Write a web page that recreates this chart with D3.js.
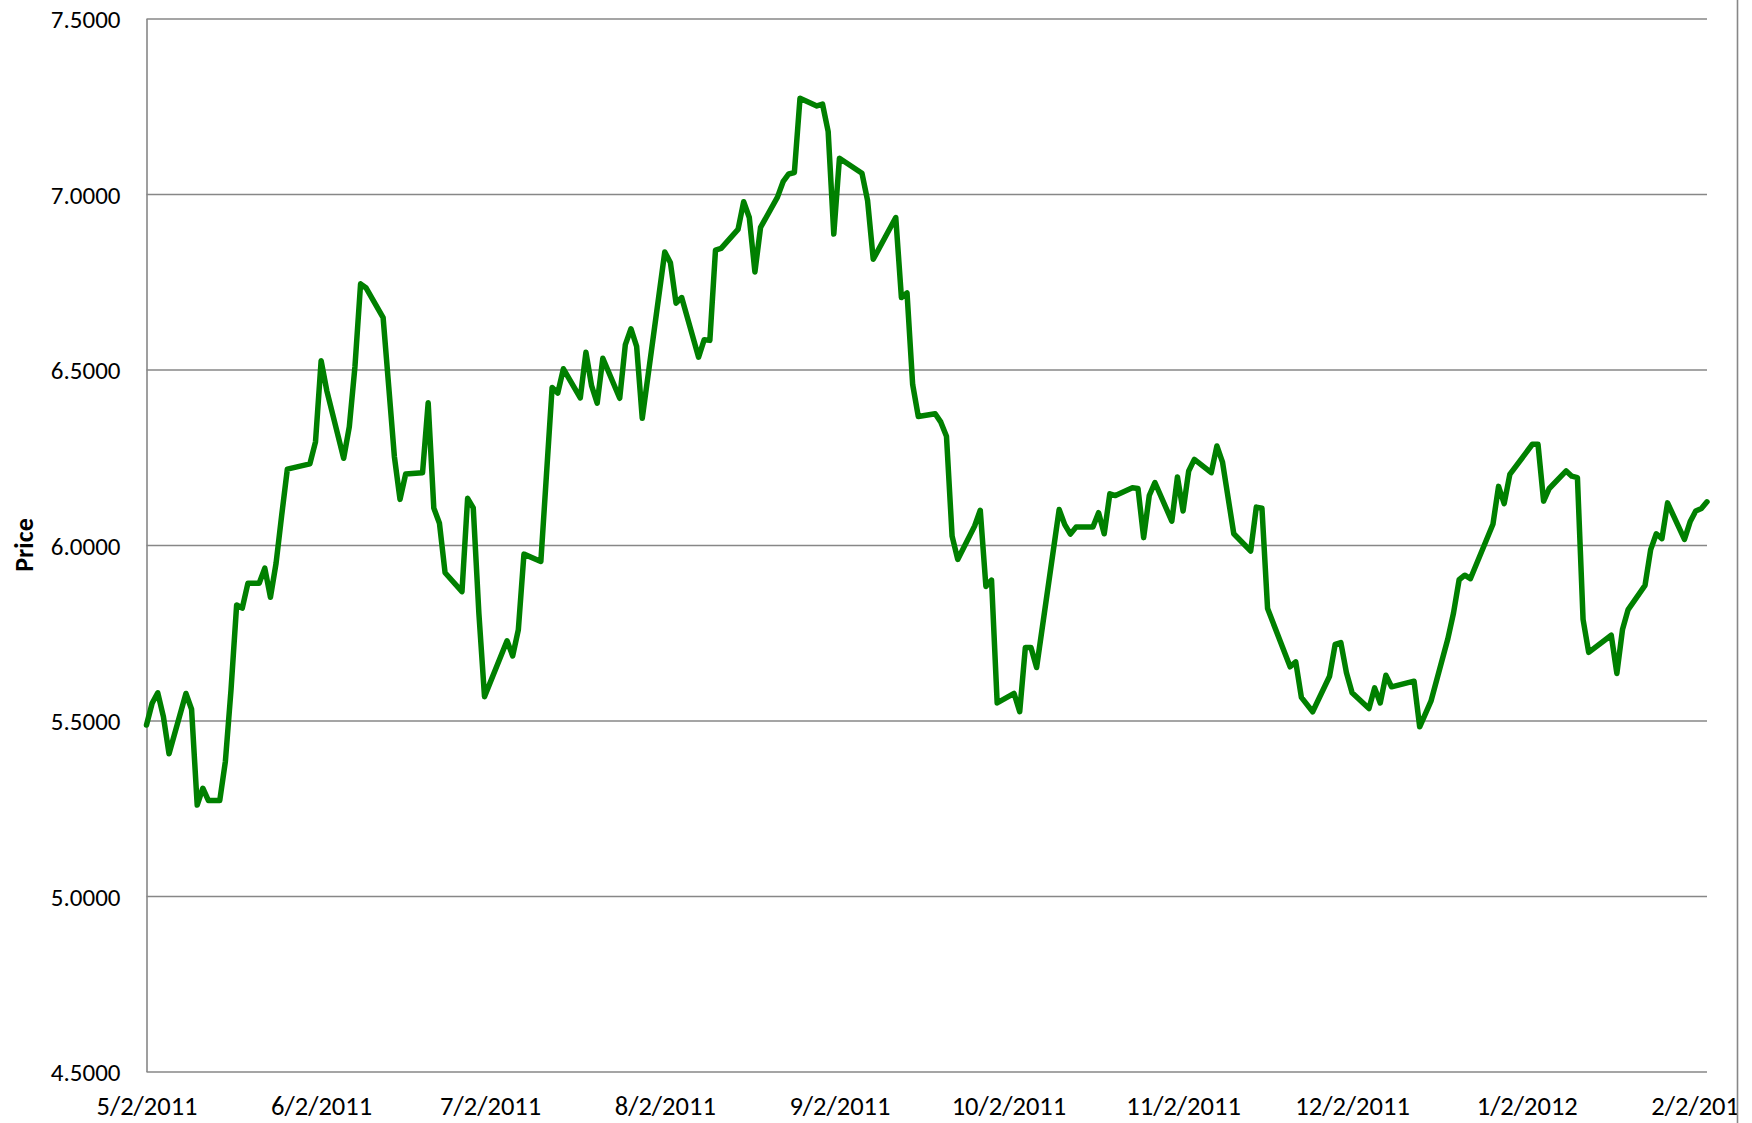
<!DOCTYPE html>
<html>
<head>
<meta charset="utf-8">
<script src="https://cdn.jsdelivr.net/npm/d3@7"></script>
<style>
	body { margin: 0; background: #fff; }
	text { font-family: Carlito, Calibri, Lato, sans-serif; fill: #000; }
</style>
</head>
<body>
<div id="price_graph"></div>
<script>
// dates and prices
var dates = [
	"2011-05-02", "2011-05-03", "2011-05-04", "2011-05-05", "2011-05-06", "2011-05-09", "2011-05-10", "2011-05-11",
	"2011-05-12", "2011-05-13", "2011-05-15", "2011-05-16", "2011-05-17", "2011-05-18", "2011-05-19", "2011-05-20",
	"2011-05-22", "2011-05-23", "2011-05-24", "2011-05-25", "2011-05-26", "2011-05-27", "2011-05-31", "2011-06-01",
	"2011-06-02", "2011-06-03", "2011-06-06", "2011-06-07", "2011-06-08", "2011-06-09", "2011-06-10", "2011-06-13",
	"2011-06-14", "2011-06-15", "2011-06-16", "2011-06-17", "2011-06-20", "2011-06-21", "2011-06-22", "2011-06-23",
	"2011-06-24", "2011-06-27", "2011-06-28", "2011-06-29", "2011-06-30", "2011-07-01", "2011-07-05", "2011-07-06",
	"2011-07-07", "2011-07-08", "2011-07-11", "2011-07-13", "2011-07-14", "2011-07-15", "2011-07-18", "2011-07-19",
	"2011-07-20", "2011-07-21", "2011-07-22", "2011-07-25", "2011-07-26", "2011-07-27", "2011-07-28", "2011-07-29",
	"2011-08-02", "2011-08-03", "2011-08-04", "2011-08-05", "2011-08-08", "2011-08-09", "2011-08-10", "2011-08-11",
	"2011-08-12", "2011-08-15", "2011-08-16", "2011-08-17", "2011-08-18", "2011-08-19", "2011-08-22", "2011-08-23",
	"2011-08-24", "2011-08-25", "2011-08-26", "2011-08-29", "2011-08-30", "2011-08-31", "2011-09-01", "2011-09-02",
	"2011-09-06", "2011-09-07", "2011-09-08", "2011-09-12", "2011-09-13", "2011-09-14", "2011-09-15", "2011-09-16",
	"2011-09-19", "2011-09-20", "2011-09-21", "2011-09-22", "2011-09-23", "2011-09-26", "2011-09-27", "2011-09-28",
	"2011-09-29", "2011-09-30", "2011-10-03", "2011-10-04", "2011-10-05", "2011-10-06", "2011-10-07", "2011-10-11",
	"2011-10-12", "2011-10-13", "2011-10-14", "2011-10-17", "2011-10-18", "2011-10-19", "2011-10-20", "2011-10-21",
	"2011-10-24", "2011-10-25", "2011-10-26", "2011-10-27", "2011-10-28", "2011-10-31", "2011-11-01", "2011-11-02",
	"2011-11-03", "2011-11-04", "2011-11-07", "2011-11-08", "2011-11-09", "2011-11-11", "2011-11-14", "2011-11-15",
	"2011-11-16", "2011-11-17", "2011-11-21", "2011-11-22", "2011-11-23", "2011-11-25", "2011-11-28", "2011-11-29",
	"2011-11-30", "2011-12-01", "2011-12-02", "2011-12-05", "2011-12-06", "2011-12-07", "2011-12-08", "2011-12-09",
	"2011-12-13", "2011-12-14", "2011-12-16", "2011-12-19", "2011-12-20", "2011-12-21", "2011-12-22", "2011-12-23",
	"2011-12-27", "2011-12-28", "2011-12-29", "2011-12-30", "2012-01-03", "2012-01-04", "2012-01-05", "2012-01-06",
	"2012-01-09", "2012-01-10", "2012-01-11", "2012-01-12", "2012-01-13", "2012-01-17", "2012-01-18", "2012-01-19",
	"2012-01-20", "2012-01-23", "2012-01-24", "2012-01-25", "2012-01-26", "2012-01-27", "2012-01-30", "2012-01-31",
	"2012-02-01", "2012-02-02", "2012-02-03"
];

var prices = [
	5.487, 5.549, 5.579, 5.511, 5.405, 5.577, 5.532, 5.259,
	5.307, 5.272, 5.272, 5.383, 5.587, 5.829, 5.820, 5.891,
	5.891, 5.934, 5.851, 5.948, 6.085, 6.216, 6.231, 6.294,
	6.525, 6.440, 6.247, 6.337, 6.508, 6.744, 6.732, 6.648,
	6.451, 6.252, 6.130, 6.202, 6.206, 6.405, 6.105, 6.062,
	5.921, 5.867, 6.133, 6.106, 5.805, 5.568, 5.727, 5.684,
	5.758, 5.974, 5.953, 6.449, 6.433, 6.502, 6.419, 6.549,
	6.454, 6.404, 6.532, 6.418, 6.571, 6.616, 6.566, 6.361,
	6.835, 6.804, 6.689, 6.705, 6.535, 6.585, 6.583, 6.840,
	6.845, 6.899, 6.978, 6.933, 6.778, 6.905, 6.991, 7.035,
	7.057, 7.061, 7.273, 7.251, 7.256, 7.178, 6.886, 7.102,
	7.059, 6.981, 6.814, 6.933, 6.705, 6.718, 6.457, 6.366,
	6.374, 6.350, 6.310, 6.025, 5.959, 6.054, 6.099, 5.882,
	5.900, 5.550, 5.577, 5.525, 5.708, 5.708, 5.651, 6.101,
	6.058, 6.031, 6.051, 6.051, 6.092, 6.032, 6.146, 6.141,
	6.163, 6.161, 6.021, 6.141, 6.178, 6.068, 6.194, 6.097,
	6.211, 6.244, 6.206, 6.282, 6.236, 6.032, 5.983, 6.108,
	6.105, 5.819, 5.653, 5.667, 5.566, 5.525, 5.626, 5.717,
	5.722, 5.636, 5.579, 5.534, 5.593, 5.550, 5.629, 5.596,
	5.612, 5.482, 5.555, 5.733, 5.806, 5.901, 5.914, 5.904,
	6.059, 6.167, 6.118, 6.201, 6.287, 6.287, 6.125, 6.161,
	6.211, 6.196, 6.192, 5.788, 5.694, 5.743, 5.634, 5.759,
	5.816, 5.885, 5.987, 6.032, 6.018, 6.120, 6.016, 6.066,
	6.097, 6.104, 6.123
];

// axis ticks
var xTicks = [ "2011-05-02", "2011-06-02", "2011-07-02", "2011-08-02", "2011-09-02",
	"2011-10-02", "2011-11-02", "2011-12-02", "2012-01-02", "2012-02-02" ];
var yTicks = [ 4.5, 5.0, 5.5, 6.0, 6.5, 7.0, 7.5 ];
var xDomain = [ "2011-05-02", "2012-02-03" ];
var yTitle = "Price";

// set the dimensions and margins of the graph
var margin = {
		top: 18.5,
		right: 45,
		bottom: 51.5,
		left: 146.5
	},
	totalWidth = 1752,
	totalHeight = 1123,
	width = totalWidth - margin.left - margin.right,
	height = totalHeight - margin.top - margin.bottom;

var parseDate = d3.timeParse( "%Y-%m-%d" );
var labelFormat = d3.timeFormat( "%-m/%-d/%Y" );

var data = dates.map( function( d, i ) {
	return { date: parseDate( d ), price: prices[ i ] };
} );

// scales
var x = d3.scaleTime()
	.domain( xDomain.map( parseDate ) )
	.range( [ 0, width ] );

var y = d3.scaleLinear()
	.domain( [ 4.5, 7.5 ] )
	.range( [ height, 0 ] );

var svg = d3.select( "#price_graph" )
	.append( "svg" )
	.attr( "width", totalWidth )
	.attr( "height", totalHeight )
	.style( "display", "block" );

svg.append( "rect" )
	.attr( "width", totalWidth )
	.attr( "height", totalHeight )
	.attr( "fill", "#fff" );

// labels running past the chart border get cut off
svg.append( "clipPath" )
	.attr( "id", "chartClip" )
	.append( "rect" )
	.attr( "x", 0 )
	.attr( "y", 0 )
	.attr( "width", 1737 )
	.attr( "height", totalHeight );

var g = svg.append( "g" )
	.attr( "transform", "translate(" + margin.left + "," + margin.top + ")" );

// y axis with gridlines
var yAxis = d3.axisLeft( y )
	.tickValues( yTicks )
	.tickSize( -width )
	.tickSizeOuter( 0 )
	.tickPadding( 26 )
	.tickFormat( d3.format( ".4f" ) );

var yG = g.append( "g" )
	.attr( "class", "y axis" )
	.call( yAxis );

yG.selectAll( ".tick line" )
	.attr( "stroke", "#878787" )
	.attr( "stroke-width", 1.6 );
yG.select( ".domain" )
	.attr( "stroke", "#878787" )
	.attr( "stroke-width", 1.6 );
yG.selectAll( "text" )
	.style( "font-size", "25px" )
	.attr( "dy", "0.36em" );

// x axis, labels only
var xAxis = d3.axisBottom( x )
	.tickValues( xTicks.map( parseDate ) )
	.tickSize( 0 )
	.tickFormat( labelFormat );

var xG = svg.append( "g" )
	.attr( "class", "x axis" )
	.attr( "clip-path", "url(#chartClip)" )
	.append( "g" )
	.attr( "transform", "translate(" + margin.left + "," + ( margin.top + height ) + ")" )
	.call( xAxis );

xG.select( ".domain" ).remove();
xG.selectAll( "text" )
	.style( "font-size", "26.5px" )
	.attr( "y", 43 )
	.attr( "dy", 0 );

// right border of the chart area
svg.append( "line" )
	.attr( "x1", 1737.5 )
	.attr( "x2", 1737.5 )
	.attr( "y1", 0 )
	.attr( "y2", totalHeight )
	.attr( "stroke", "#878787" )
	.attr( "stroke-width", 1.6 );

// y title
svg.append( "text" )
	.attr( "transform", "translate(33," + ( margin.top + height / 2 ) + ") rotate(-90)" )
	.attr( "text-anchor", "middle" )
	.style( "font-size", "26px" )
	.style( "font-weight", "bold" )
	.text( yTitle );

// price line
var line = d3.line()
	.x( function( d ) {
		return x( d.date );
	} )
	.y( function( d ) {
		return y( d.price );
	} );

g.append( "path" )
	.datum( data )
	.attr( "class", "line" )
	.attr( "fill", "none" )
	.attr( "stroke", "#008000" )
	.attr( "stroke-width", 5.5 )
	.attr( "stroke-linejoin", "round" )
	.attr( "stroke-linecap", "round" )
	.attr( "d", line );
</script>
</body>
</html>
